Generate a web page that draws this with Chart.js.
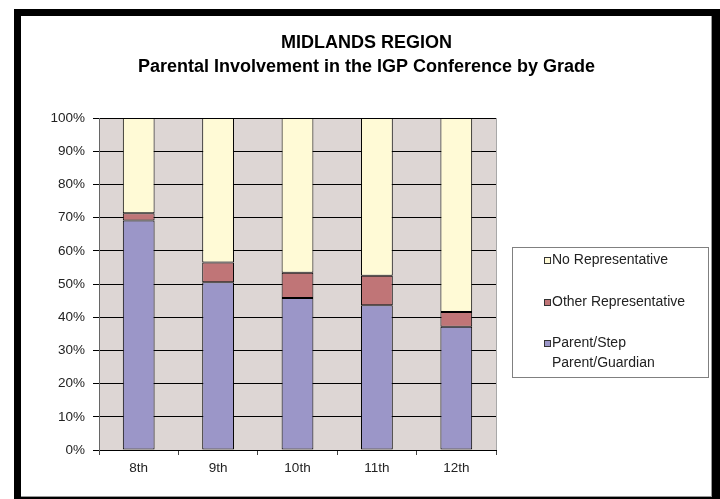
<!DOCTYPE html>
<html>
<head>
<meta charset="utf-8">
<script src="https://cdn.jsdelivr.net/npm/chart.js@4/dist/chart.umd.min.js"></script>
<style>
    html, body { margin: 0; padding: 0; background: #fff; }
    .frame { position: absolute; left: 14px; top: 9px; width: 706px; height: 490px; background: #000; }
    .inner { position: absolute; left: 21px; top: 16px; width: 690px; height: 480px; background: #fff; border-right: 1px solid #999; border-bottom: 1px solid #999; }
    #chart { position: absolute; left: 21px; top: 16px; }
</style>
</head>
<body>
<div class="frame"></div>
<div class="inner"></div>
<canvas id="chart" width="691" height="481"></canvas>
<script>
// grades on the x axis
const grades = ['8th', '9th', '10th', '11th', '12th'];

// percentages per grade (stacked to 100)
const parentVals = [69.1, 50.5, 45.8, 43.6, 37.1];
const otherVals = [2.2, 6.0, 7.6, 8.9, 4.5];
const noneVals = [28.7, 43.5, 46.6, 47.5, 58.4];

const seriesNames = ['Parent/Step Parent/Guardian', 'Other Representative', 'No Representative'];
const titleLines = ['MIDLANDS REGION', 'Parental Involvement in the IGP Conference by Grade'];
const yTicks = [0, 10, 20, 30, 40, 50, 60, 70, 80, 90, 100];

const FONT = '"Liberation Sans", Arial, sans-serif';

// plot background + right edge
const plotBg = {
    id: 'plotBg',
    beforeDraw(chart) {
        const { ctx, chartArea: a } = chart;
        ctx.save();
        ctx.fillStyle = '#ddd6d4';
        ctx.fillRect(a.left, a.top, a.right - a.left, a.bottom - a.top);
        ctx.strokeStyle = '#a8a8a8';
        ctx.lineWidth = 1;
        ctx.beginPath();
        ctx.moveTo(a.right + 0.5, a.top);
        ctx.lineTo(a.right + 0.5, a.bottom);
        ctx.stroke();
        ctx.restore();
    }
};

// title centred on the whole canvas (built-in title would sit left of the legend space)
const wideTitle = {
    id: 'wideTitle',
    afterDraw(chart) {
        const { ctx, width } = chart;
        ctx.save();
        ctx.font = 'bold 18px ' + FONT;
        ctx.fillStyle = '#000';
        ctx.textAlign = 'center';
        ctx.textBaseline = 'middle';
        titleLines.forEach((t, i) => ctx.fillText(t, width / 2, 27 + i * 24));
        ctx.restore();
    }
};

// boxed legend on the right, last series first, with wrapped labels
const boxLegend = {
    id: 'boxLegend',
    afterDraw(chart) {
        const { ctx, chartArea: a } = chart;
        const x = a.right + 16, y = 231, w = 196, h = 130;
        ctx.save();
        ctx.strokeStyle = '#808080';
        ctx.lineWidth = 1;
        ctx.strokeRect(x + 0.5, y + 0.5, w, h);
        ctx.font = '14px ' + FONT;
        ctx.textBaseline = 'middle';
        const rows = [
            { ds: 2, lines: ['No Representative'], cy: 244 },
            { ds: 1, lines: ['Other Representative'], cy: 286 },
            { ds: 0, lines: ['Parent/Step', 'Parent/Guardian'], cy: 327 }
        ];
        rows.forEach(r => {
            const ds = chart.data.datasets[r.ds];
            ctx.fillStyle = ds.backgroundColor;
            ctx.fillRect(x + 32, r.cy - 3, 7, 7);
            ctx.strokeStyle = '#333';
            ctx.strokeRect(x + 32.5, r.cy - 2.5, 6, 6);
            ctx.fillStyle = '#222';
            r.lines.forEach((t, i) => ctx.fillText(t, x + 40, r.cy + i * 20));
        });
        ctx.restore();
    }
};

const ctx = document.getElementById('chart').getContext('2d');
new Chart(ctx, {
    type: 'bar',
    data: {
        labels: grades,
        datasets: [
            { label: seriesNames[0], data: parentVals, backgroundColor: '#9b96c8' },
            { label: seriesNames[1], data: otherVals, backgroundColor: '#c07577' },
            { label: seriesNames[2], data: noneVals, backgroundColor: '#fffad6' }
        ].map(d => Object.assign(d, {
            borderColor: '#000',
            borderWidth: 1,
            borderSkipped: false,
            barPercentage: 0.4,
            categoryPercentage: 1.0
        }))
    },
    options: {
        responsive: false,
        animation: false,
        layout: { padding: { top: 102, right: 216, bottom: 0, left: 0 } },
        plugins: {
            legend: { display: false },
            tooltip: { enabled: false },
            title: { display: false }
        },
        scales: {
            x: {
                stacked: true,
                grid: { offset: true, drawOnChartArea: false, tickLength: 5, color: '#444' },
                border: { color: '#000' },
                ticks: { color: '#222', font: { family: FONT, size: 13.5 }, padding: 5 },
                afterFit(scale) { scale.height = 47; }
            },
            y: {
                stacked: true,
                min: 0,
                max: 100,
                afterBuildTicks(scale) { scale.ticks = yTicks.map(v => ({ value: v })); },
                grid: { color: '#000', tickLength: 6 },
                border: { color: '#666' },
                ticks: {
                    color: '#222',
                    font: { family: FONT, size: 13.5 },
                    padding: 8,
                    callback: v => v + '%'
                },
                afterFit(scale) { scale.width = 78; }
            }
        }
    },
    plugins: [plotBg, wideTitle, boxLegend]
});
</script>
</body>
</html>
